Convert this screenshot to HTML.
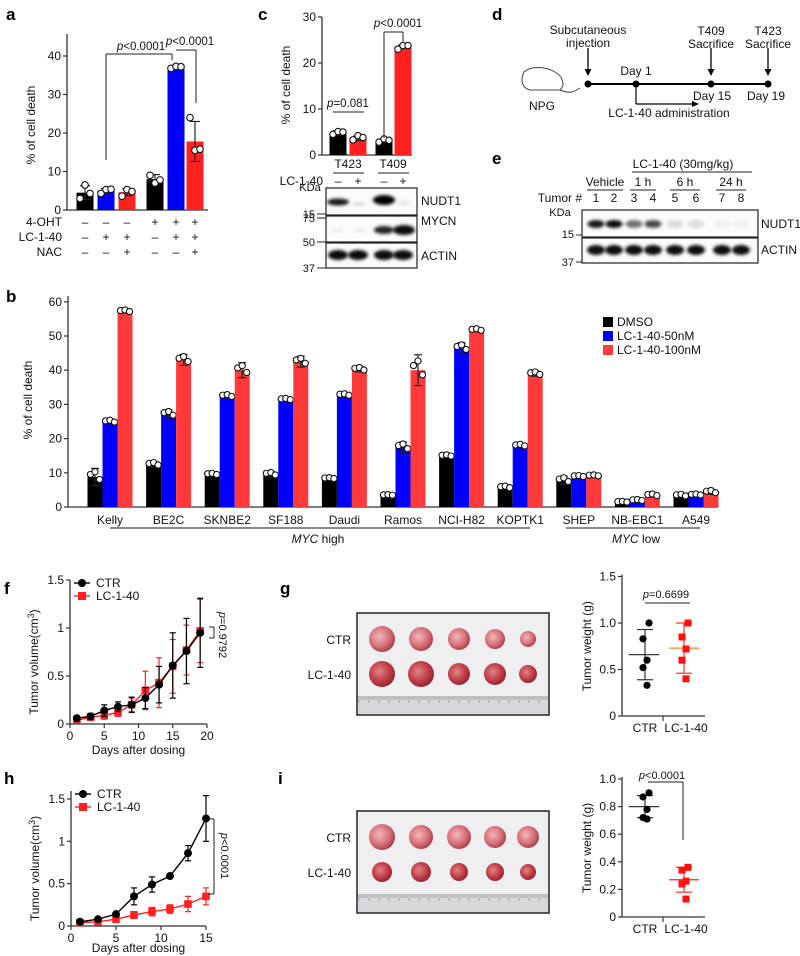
<!DOCTYPE html>
<html><head><meta charset="utf-8"><style>
html,body{margin:0;padding:0;background:#fff}
svg{display:block;font-family:"Liberation Sans",Arial,sans-serif}
.t{font-size:11px;fill:#111}
.L{font-size:17px;font-weight:bold;fill:#000}
</style></head><body>
<svg id="fig" width="800" height="956" viewBox="0 0 800 956" xmlns="http://www.w3.org/2000/svg">
<defs>
<filter id="bl" x="-30%" y="-80%" width="160%" height="260%"><feGaussianBlur stdDeviation="1.6"/></filter>
<radialGradient id="tum" cx="40%" cy="40%" r="65%"><stop offset="0" stop-color="#f0b8b8"/><stop offset="0.6" stop-color="#d8707a"/><stop offset="1" stop-color="#a03c44"/></radialGradient>
<radialGradient id="tum2" cx="40%" cy="40%" r="65%"><stop offset="0" stop-color="#e08488"/><stop offset="0.6" stop-color="#c23c46"/><stop offset="1" stop-color="#8a2430"/></radialGradient>
</defs>
<text class="L" x="6" y="20">a</text>
<text class="L" x="258" y="20">c</text>
<text class="L" x="492" y="20">d</text>
<text class="L" x="492" y="164">e</text>
<text class="L" x="6" y="302">b</text>
<text class="L" x="4" y="594">f</text>
<text class="L" x="280" y="594">g</text>
<text class="L" x="4" y="784">h</text>
<text class="L" x="278" y="784">i</text>
<g id="gA"></g>
<g id="gC"></g>
<g id="gD"></g>
<g id="gE"></g>
<g id="gB"></g>
<g id="gF"></g>
<g id="gG"></g>
<g id="gH"></g>
<g id="gI"></g>
</svg>
<script>
// ---- data ----
const aValues=[4.5,5,4.6,8,37,17.8];
const aErr=[1.8,0.6,0.9,1.2,0.4,5.2];
const aPoints=[[3,6.5,4.3],[4.3,5.3,5.4],[3.6,5.3,4.8],[9,7,7.8],[36.8,37.3,37.2],[24,15.5,15.8]];
const aOHT=['–','–','–','+','+','+'];
const aLC=['–','+','+','–','+','+'];
const aNAC=['–','–','+','–','–','+'];
const aTicks=[0,10,20,30,40];

const cValues=[4.8,3.6,3.1,23.6];
const cErr=[0.5,0.5,0.4,0.3];
const cPoints=[[4.5,5.1,5.0],[3.3,4.2,3.8],[2.8,3.5,3.2],[23,23.8,23.8]];
const cTicks=[0,10,20,30];

const bCats=['Kelly','BE2C','SKNBE2','SF188','Daudi','Ramos','NCI-H82','KOPTK1','SHEP','NB-EBC1','A549'];
const bDMSO=[8.8,12.5,9.6,9.6,8.4,3.5,15,5.8,7.8,1.5,3.4];
const b50=[25,27.2,32.5,31.5,32.8,17.5,46.5,18,9,2,3.6];
const b100=[57.3,43,40,42.5,40.3,40,51.8,39,9.2,3.5,4.4];
const bErrD=[2.5,0.8,0.4,0.8,0.3,0.2,0.4,0.5,1.2,0.2,0.5];
const bErr50=[0.6,1.2,0.6,0.4,0.5,1.5,1.5,0.5,0.3,0.3,0.3];
const bErr100=[0.5,1.6,2.2,1.6,0.8,4.5,0.5,0.8,0.3,0.5,0.7];
const bTicks=[0,10,20,30,40,50,60];

const fDays=[1,3,5,7,9,11,13,15,17,19];
const fCTR=[0.06,0.08,0.14,0.18,0.2,0.27,0.41,0.61,0.76,0.95];
const fCTRerr=[0.02,0.03,0.06,0.05,0.08,0.11,0.19,0.34,0.34,0.36];
const fLC=[0.04,0.07,0.09,0.12,0.2,0.35,0.43,0.6,0.77,0.97];
const fLCerr=[0.02,0.02,0.04,0.04,0.07,0.2,0.26,0.28,0.26,0.33];
const fXTicks=[0,5,10,15,20];
const fYTicks=[0,0.5,1,1.5];

const hDays=[1,3,5,7,9,11,13,15];
const hCTR=[0.05,0.08,0.14,0.35,0.49,0.59,0.86,1.27];
const hCTRerr=[0.02,0.02,0.03,0.1,0.09,0.02,0.09,0.27];
const hLC=[0.04,0.05,0.08,0.13,0.17,0.2,0.26,0.35];
const hLCerr=[0.02,0.02,0.02,0.04,0.05,0.05,0.09,0.1];
const hXTicks=[0,5,10,15];
const hYTicks=[0,0.5,1,1.5];

const gCTR=[1.0,0.83,0.6,0.52,0.33];
const gLC=[1.0,0.85,0.72,0.6,0.4];
const gCTRmean=0.66, gCTRsd=0.27, gLCmean=0.73, gLCsd=0.27;
const gTicks=[0,0.5,1.0,1.5];
const iCTR=[0.9,0.87,0.78,0.72,0.71];
const iLC=[0.36,0.34,0.26,0.24,0.13];
const iCTRmean=0.8, iCTRsd=0.08, iLCmean=0.27, iLCsd=0.09;
const iTicks=[0,0.2,0.4,0.6,0.8,1.0];

// ---- helpers ----
const NS='http://www.w3.org/2000/svg';
function mk(p,tag,at){const e=document.createElementNS(NS,tag);for(const k in at)e.setAttribute(k,at[k]);p.appendChild(e);return e;}
function line(p,x1,y1,x2,y2,c,w,name){const e=mk(p,'line',{x1,y1,x2,y2,stroke:c||'#222','stroke-width':w||1.2});

return e;}
function txt(p,x,y,s,anchor,size,name,extra){const e=mk(p,'text',Object.assign({x,y,'text-anchor':anchor||'middle','font-size':size||11,fill:'#111'},extra||{}));e.textContent=s;

return e;}
function yAxis(p,x,y0,y1,ticks,sc,fmt,name){line(p,x,y0,x,y1,'#333',1.3,name+'-y-axis');
ticks.forEach(t=>{const y=sc(t);line(p,x-4,y,x,y,'#333',1.2,name+'-y-tick');txt(p,x-6,y+4,fmt?fmt(t):String(t),'end',12,name+'-y-tick-label');});}
function bar(p,cx,w,v,sc,col,name){const y=sc(v),y0=sc(0);const r=mk(p,'rect',{x:cx-w/2,y:y,width:w,height:y0-y,fill:col});

return r;}
function err(p,cx,v,e,sc,cw,col){const a=sc(v+e),b=sc(v-e);line(p,cx,a,cx,b,col||'#222',1.2,'error-bar');line(p,cx-cw,a,cx+cw,a,col||'#222',1.2,'error-cap');line(p,cx-cw,b,cx+cw,b,col||'#222',1.2,'error-cap');}
function dot(p,x,y,r,name){const c=mk(p,'circle',{cx:x,cy:y,r:r||3.2,fill:'#fff',stroke:'#111','stroke-width':1.1});

return c;}
function band(p,cx,cy,w,h,op,name){const e=mk(p,'ellipse',{cx,cy,rx:w/2,ry:h/2,fill:'#000','fill-opacity':op,filter:'url(#bl)'});

return e;}
function box(p,x,y,w,h,name){const r=mk(p,'rect',{x,y,width:w,height:h,fill:'#fbfbfb',stroke:'#222','stroke-width':1.2});

return r;}

// ---- panel a ----
(function(){const g=document.getElementById('gA');const sc=v=>210-v*3.85;
yAxis(g,67,210,34,aTicks,sc,null,'a');line(g,67,210,208,210,'#333',1.3,'a-x-axis');
const xs=[85,106,127,155,176,195];const cols=['#000','#0000ff','#ff2020','#000','#0000ff','#ff2020'];
aValues.forEach((v,i)=>{bar(g,xs[i],17,v,sc,cols[i],'a-bar-'+i);err(g,xs[i],v,aErr[i],sc,5);aPoints[i].forEach((pv,j)=>dot(g,xs[i]+(j-1)*5,sc(pv),3.3));});
txt(g,35,125,'% of cell death','middle',12,'a-y-axis-title',{transform:'rotate(-90 35 125)'});
[['4-OHT',aOHT,226],['LC-1-40',aLC,241],['NAC',aNAC,256]].forEach(r=>{txt(g,62,r[2],r[0],'end',12,'a-row-label');r[1].forEach((s,i)=>txt(g,xs[i],r[2],s,'middle',12,'a-row-sign'));});
const pl=[[106,160,106,54],[106,54,172,54],[172,54,172,60],[176,50,196,50],[196,50,196,103]];pl.forEach(l=>line(g,l[0],l[1],l[2],l[3],'#222',1,'a-significance-bracket'));
const t1=txt(g,141,50,'','middle',11.5,'a-p-value');t1.innerHTML='<tspan font-style="italic">p</tspan>&lt;0.0001';
const t2=txt(g,190,45,'','middle',11.5,'a-p-value');t2.innerHTML='<tspan font-style="italic">p</tspan>&lt;0.0001';
})();

// ---- panel c ----
(function(){const g=document.getElementById('gC');const sc=v=>155-v*4.6;
yAxis(g,322,155,17,cTicks,sc,null,'c');line(g,322,155,412,155,'#333',1.3,'c-x-axis');
const xs=[338,358,384,403];const cols=['#000','#ff2020','#000','#ff2020'];
cValues.forEach((v,i)=>{bar(g,xs[i],17,v,sc,cols[i],'c-bar-'+i);err(g,xs[i],v,cErr[i],sc,5);cPoints[i].forEach((pv,j)=>dot(g,xs[i]+(j-1)*5,sc(pv),3.2));});
txt(g,290,85,'% of cell death','middle',12,'c-y-axis-title',{transform:'rotate(-90 290 85)'});
line(g,333,112,364,112,'#222',1,'c-bracket');
const p1=txt(g,348,107,'','middle',11.5,'c-p-value');p1.innerHTML='<tspan font-style="italic">p</tspan>=0.081';
[[384,138,384,32],[384,32,403,32],[403,32,403,42]].forEach(l=>line(g,l[0],l[1],l[2],l[3],'#222',1,'c-bracket'));
const p2=txt(g,398,27,'','middle',11.5,'c-p-value');p2.innerHTML='<tspan font-style="italic">p</tspan>&lt;0.0001';
txt(g,348,168,'T423','middle',12,'c-sample-label');txt(g,393,168,'T409','middle',12,'c-sample-label');
line(g,333,173,364,173,'#222',1,'c-underline');line(g,378,173,409,173,'#222',1,'c-underline');
txt(g,323,185,'LC-1-40','end',12,'c-treatment-label');
['–','+','–','+'].forEach((s,i)=>txt(g,xs[i],185,s,'middle',12,'c-sign'));
box(g,326,188,91,27,'c-blot-nudt1');box(g,326,216,91,26,'c-blot-mycn');box(g,326,243,91,25,'c-blot-actin');
band(g,338,202,22,7,0.9);band(g,359,204,14,3,0.15);band(g,384,200,22,10,1);band(g,404,203,14,3,0.1);
band(g,338,230,14,3,0.08);band(g,359,230,14,3,0.08);band(g,384,230,20,8,0.85);band(g,404,230,22,10,0.95);
xs.forEach(x=>band(g,x,255,20,10,0.95));
txt(g,310,191,'KDa','middle',11,'c-kda-label');
[['15',214],['75',218],['50',242],['37',268]].forEach(k=>{txt(g,315,k[1]+4,k[0],'end',11,'c-mw-label');line(g,317,k[1],326,k[1],'#222',1,'c-mw-tick');});
txt(g,421,205,'NUDT1','start',12,'c-blot-label');txt(g,421,225,'MYCN','start',12,'c-blot-label');txt(g,421,260,'ACTIN','start',12,'c-blot-label');
})();

// ---- panel d ----
(function(){const g=document.getElementById('gD');
line(g,588,84,768,84,'#000',2,'timeline');
[588,636,711,768].forEach(x=>{const c=mk(g,'circle',{cx:x,cy:84,r:3.5,fill:'#000'});

});
function arr(x,y1,y2){line(g,x,y1,x,y2-4,'#000',1.3,'arrow');const pth=mk(g,'path',{d:`M${x-3.5} ${y2-7} L${x+3.5} ${y2-7} L${x} ${y2} Z`,fill:'#000'});

}
arr(588,48,76);arr(711,48,76);arr(768,48,76);
line(g,636,84,636,104,'#000',1.2,'admin-arrow');line(g,636,104,694,104,'#000',1.2,'admin-arrow');
const ah=mk(g,'path',{d:'M692 101 L699 104 L692 107 Z',fill:'#000'});


txt(g,588,34,'Subcutaneous','middle',12,'d-text');txt(g,588,47,'injection','middle',12,'d-text');
txt(g,636,75,'Day 1','middle',12,'d-text');
txt(g,711,35,'T409','middle',12,'d-text');txt(g,711,48,'Sacrifice','middle',12,'d-text');
txt(g,768,35,'T423','middle',12,'d-text');txt(g,768,48,'Sacrifice','middle',12,'d-text');
txt(g,712,100,'Day 15','middle',12,'d-text');txt(g,766,100,'Day 19','middle',12,'d-text');
txt(g,669,117,'LC-1-40 administration','middle',12,'d-text');
const m=mk(g,'path',{d:'M524 72 C530 66 545 66 555 72 C562 76 566 84 560 90 L530 90 C522 88 520 80 524 72 Z M560 90 C570 94 574 92 580 88',fill:'none',stroke:'#444','stroke-width':1});


txt(g,542,110,'NPG','middle',12,'d-text');
})();

// ---- panel e ----
(function(){const g=document.getElementById('gE');
const lx=[596,614,634,653,675,696,722,741];
txt(g,683,168,'LC-1-40 (30mg/kg)','middle',12,'e-text');line(g,632,172,752,172,'#222',1,'e-underline');
[['Vehicle',605,587,623],['1 h',643,630,656],['6 h',685,670,700],['24 h',731,716,746]].forEach(v=>{txt(g,v[1],186,v[0],'middle',12,'e-group-label');line(g,v[2],190,v[3],190,'#222',1,'e-underline');});
txt(g,582,202,'Tumor #','end',12,'e-text');
lx.forEach((x,i)=>txt(g,x,202,String(i+1),'middle',12,'e-lane-number'));
box(g,582,210,176,27,'e-blot-nudt1');box(g,582,238,176,25,'e-blot-actin');
const op=[0.9,0.95,0.55,0.7,0.12,0.12,0.04,0.04];
lx.forEach((x,i)=>{band(g,x,224,17,8,op[i]);band(g,x,250,18,10,0.95);});
txt(g,560,216,'KDa','middle',11,'e-text');
txt(g,574,238,'15','end',11,'e-text');line(g,576,235,582,235,'#222',1,'e-tick');
txt(g,574,266,'37','end',11,'e-text');line(g,576,262,582,262,'#222',1,'e-tick');
txt(g,761,228,'NUDT1','start',12,'e-blot-label');txt(g,761,254,'ACTIN','start',12,'e-blot-label');
})();

// ---- panel b ----
(function(){const g=document.getElementById('gB');const sc=v=>507-v*3.42;
yAxis(g,68,507,296,bTicks,sc,null,'b');line(g,68,507,718,507,'#333',1.3,'b-x-axis');
const cx=i=>110+i*58.6;const w=15;
bCats.forEach((c,i)=>{const x=cx(i);
[[bDMSO,bErrD,'#000',-w],[b50,bErr50,'#0000ff',0],[b100,bErr100,'#ff3a3a',w]].forEach((s,k)=>{const xx=x+s[3];bar(g,xx,w,s[0][i],sc,s[2],'b-bar-'+c+'-'+k);err(g,xx,s[0][i],s[1][i],sc,4);
[-1,0,1].forEach(j=>dot(g,xx+j*4.5,sc(s[0][i]+(j===0?s[1][i]*0.6:-s[1][i]*0.3*j)),3.1));});
txt(g,x,524,c,'middle',12,'b-category-label');});
txt(g,32,400,'% of cell death','middle',12,'b-y-axis-title',{transform:'rotate(-90 32 400)'});
line(g,110,528,530,528,'#444',1.2,'b-group-line');line(g,566,528,700,528,'#444',1.2,'b-group-line');
const g1=txt(g,318,543,'','middle',12,'b-group-label');g1.innerHTML='<tspan font-style="italic">MYC</tspan> high';
const g2=txt(g,636,543,'','middle',12,'b-group-label');g2.innerHTML='<tspan font-style="italic">MYC</tspan> low';
[['DMSO','#000',326],['LC-1-40-50nM','#0000ff',340],['LC-1-40-100nM','#ff3a3a',354]].forEach(l=>{const r=mk(g,'rect',{x:603,y:l[2]-9,width:10,height:10,fill:l[1]});


txt(g,617,l[2],l[0],'start',12,'legend-entry');});
})();

// ---- line charts ----
function lineChart(g,name,x0,x1,xmax,y0,ymax1,ymaxVal,days,ctr,ce,lc,le,xt,yt,top,titleDy){
const sx=v=>x0+v*(x1-x0)/xmax, sy=v=>y0-v*(y0-ymax1)/ymaxVal;
yAxis(g,x0,y0,top,yt,sy,null,name);line(g,x0,y0,x1,y0,'#333',1.3,name+'-x-axis');
xt.forEach(t=>{line(g,sx(t),y0,sx(t),y0+4,'#333',1.2,name+'-x-tick');txt(g,sx(t),y0+16,String(t),'middle',12,name+'-x-tick-label');});
txt(g,(x0+x1)/2,y0+titleDy,'Days after dosing','middle',12,name+'-x-axis-title');
const yc=(y0+top)/2+10;const ttl=txt(g,x0-32,yc,'','middle',12,name+'-y-axis-title',{transform:`rotate(-90 ${x0-32} ${yc})`});ttl.innerHTML='Tumor volume(cm<tspan dy="-4" font-size="9">3</tspan><tspan dy="4">)</tspan>';
[[lc,le,'#ff2020','sq'],[ctr,ce,'#000','ci']].forEach(s=>{
days.forEach((d,i)=>err(g,sx(d),s[0][i],s[1][i],sy,3,s[2]));
const pl=mk(g,'polyline',{points:days.map((d,i)=>sx(d)+','+sy(s[0][i])).join(' '),fill:'none',stroke:s[2],'stroke-width':1.4});


days.forEach((d,i)=>{let m;if(s[3]==='ci')m=mk(g,'circle',{cx:sx(d),cy:sy(s[0][i]),r:4,fill:'#000'});else m=mk(g,'rect',{x:sx(d)-3.8,y:sy(s[0][i])-3.8,width:7.6,height:7.6,fill:'#ff2020'});

});});
const lc1=mk(g,'circle',{cx:x0+12,cy:top+3,r:4,fill:'#000'});


line(g,x0+4,top+3,x0+20,top+3,'#000',1.4,'legend-line');
txt(g,x0+26,top+7,'CTR','start',12,'legend-entry');
line(g,x0+4,top+16,x0+20,top+16,'#ff2020',1.4,'legend-line');
const lr=mk(g,'rect',{x:x0+8,y:top+12,width:8,height:8,fill:'#ff2020'});


txt(g,x0+26,top+20,'LC-1-40','start',12,'legend-entry');
return {sx,sy};}
(function(){const g=document.getElementById('gF');lineChart(g,'f',70,207,20,724,628,1,fDays,fCTR,fCTRerr,fLC,fLCerr,fXTicks,fYTicks,580,30);
[[209,627,214,627],[214,627,214,638],[209,638,214,638]].forEach(l=>line(g,l[0],l[1],l[2],l[3],'#222',1,'f-bracket'));
const p=txt(g,219,635,'','middle',11,'f-p-value',{transform:'rotate(90 219 635)'});p.innerHTML='<tspan font-style="italic">p</tspan>=0.9792';})();
(function(){const g=document.getElementById('gH');lineChart(g,'h',71,206,15,926,799,1.5,hDays,hCTR,hCTRerr,hLC,hLCerr,hXTicks,hYTicks,791,26);
[[208,819,214,819],[214,819,214,894],[208,894,214,894]].forEach(l=>line(g,l[0],l[1],l[2],l[3],'#222',1,'h-bracket'));
const p=txt(g,221,856,'','middle',11,'h-p-value',{transform:'rotate(90 221 856)'});p.innerHTML='<tspan font-style="italic">p</tspan>&lt;0.0001';})();

// ---- photos ----
function photo(g,name,y,h,r1,r2){const bg=mk(g,'rect',{x:357,y:y,width:192,height:h,fill:'#efeef1',stroke:'#222','stroke-width':1.5});


const rl=mk(g,'rect',{x:358,y:y+h-19,width:190,height:18,fill:'#d8d8dc'});


for(let k=0;k<95;k++)line(g,359+k*2,y+h-19,359+k*2,y+h-(k%5?15:12),'#888',0.6,'ruler-tick');
const xs=[382,421,459,495,528];
[[r1,y+26,'url(#tum)'],[r2,y+61,'url(#tum2)']].forEach(row=>xs.forEach((x,i)=>{const c=mk(g,'circle',{cx:x,cy:row[1],r:row[0][i],fill:row[2]});

}));
txt(g,351,y+31,'CTR','end',12,name+'-row-label');txt(g,351,y+66,'LC-1-40','end',12,name+'-row-label');}
photo(document.getElementById('gG'),'g',613,102,[13,12,11,10,8],[13,13,11,11,9]);
photo(document.getElementById('gI'),'i',811,102,[13,12,12,11,11],[10,10,9,9,8]);

// ---- scatter ----
function scatter(g,name,y0,y1v,yv,ticks,ctr,lc,cm,cs,lm,ls,fmt){const sy=v=>y0-v*(y0-y1v)/yv;
yAxis(g,622,y0,sy(ticks[ticks.length-1])-2,ticks,sy,fmt,name);line(g,622,y0,705,y0,'#333',1.3,name+'-x-axis');line(g,663,y0,663,y0+5,'#333',1.2,name+'-x-tick');
txt(g,645,y0+16,'CTR','middle',12,name+'-x-label');txt(g,686,y0+16,'LC-1-40','middle',12,name+'-x-label');
const yc=(y0+sy(ticks[ticks.length-1]))/2;txt(g,591,yc,'Tumor weight (g)','middle',12,name+'-y-axis-title',{transform:`rotate(-90 591 ${yc})`});
const jit=[2,-1,1,-1,1];
line(g,629,sy(cm),659,sy(cm),'#333',1.3,name+'-mean');err(g,645,cm,cs,sy,8,'#333');
line(g,669,sy(lm),699,sy(lm),name==='g'?'#ff8020':'#ff2020',1.3,name+'-mean');err(g,684,lm,ls,sy,8,'#ff3030');
ctr.forEach((v,i)=>{const c=mk(g,'circle',{cx:645+jit[i]*2,cy:sy(v),r:3.6,fill:'#000'});

});
lc.forEach((v,i)=>{const c=mk(g,'rect',{x:684+jit[i]*2-3.5,y:sy(v)-3.5,width:7,height:7,fill:'#ff1010'});

});
return sy;}
(function(){const g=document.getElementById('gG');scatter(g,'g',716,623,1,gTicks,gCTR,gLC,gCTRmean,gCTRsd,gLCmean,gLCsd,t=>t===0?'0':t.toFixed(1));
line(g,645,603,690,603,'#222',1,'g-bracket');const p=txt(g,666,598,'','middle',11,'g-p-value');p.innerHTML='<tspan font-style="italic">p</tspan>=0.6699';})();
(function(){const g=document.getElementById('gI');scatter(g,'i',917,779,1,iTicks,iCTR,iLC,iCTRmean,iCTRsd,iLCmean,iLCsd,t=>t===0?'0':t.toFixed(1));
[[648,782,683,782],[683,782,683,840]].forEach(l=>line(g,l[0],l[1],l[2],l[3],'#222',1,'i-bracket'));const p=txt(g,662,779,'','middle',11,'i-p-value');p.innerHTML='<tspan font-style="italic">p</tspan>&lt;0.0001';})();
</script>
</body></html>
